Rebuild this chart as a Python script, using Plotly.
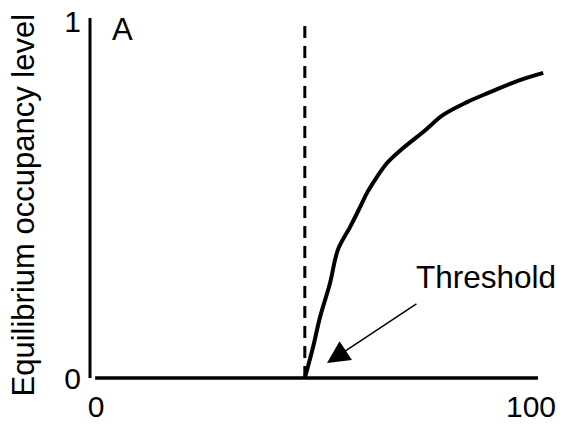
import plotly.graph_objects as go

# Data
curve_x = [48.0, 49.9, 51.5, 53.8, 55.6, 58.4, 60.7, 62.3, 64.6, 66.9, 70.6, 75.2, 79.8, 85.3, 90.6, 96.8, 102.8]
curve_y = [0.0, 0.087, 0.171, 0.267, 0.36, 0.424, 0.480, 0.520, 0.565, 0.604, 0.646, 0.691, 0.739, 0.775, 0.803, 0.834, 0.857]
threshold_x = [48.0, 48.0]
threshold_y = [0.0, 0.997]
x_ticks = [0, 100]
x_tick_labels = ["0", "100"]
y_ticks = [0, 1]
y_tick_labels = ["0", "1"]

FONT = "Liberation Sans, Arial, sans-serif"

fig = go.Figure()
fig.add_trace(go.Scatter(x=threshold_x, y=threshold_y, mode="lines",
                         line=dict(color="black", width=3, dash="12px,8px"),
                         showlegend=False, hoverinfo="skip"))
fig.add_trace(go.Scatter(x=curve_x, y=curve_y, mode="lines",
                         line=dict(color="black", width=4, shape="spline", smoothing=1.0),
                         showlegend=False, hoverinfo="skip"))

# axis lines (they do not meet in the reference)
fig.add_shape(type="line", xref="x", yref="y", x0=-1.38, x1=-1.38, y0=0.0, y1=1.011,
              line=dict(color="black", width=3))
fig.add_shape(type="line", xref="x", yref="y", x0=-0.2, x1=101.6, y0=0.0, y1=0.0,
              line=dict(color="black", width=3.5))

fig.add_annotation(x=6.2, y=0.98, xref="x", yref="y", text="A", showarrow=False,
                   font=dict(family=FONT, size=31, color="black"))
fig.add_annotation(x=89.7, y=0.284, xref="x", yref="y", text="Threshold", showarrow=False,
                   font=dict(family=FONT, size=31.5, color="black"))
fig.add_annotation(x=53.1, y=0.042, xref="x", yref="y", ax=74.0, ay=0.211,
                   axref="x", ayref="y", text="", showarrow=True,
                   arrowhead=2, arrowwidth=1.5, arrowsize=3, arrowcolor="black")
fig.add_annotation(x=-0.1826, y=0.486, xref="paper", yref="y",
                   text="Equilibrium occupancy level", textangle=-90, showarrow=False,
                   font=dict(family=FONT, size=31, color="black"))

fig.update_layout(
    width=572, height=435,
    margin=dict(l=80, r=32, t=4, b=61, autoexpand=False),
    paper_bgcolor="white", plot_bgcolor="white",
    font=dict(family=FONT, size=30, color="black"),
    xaxis=dict(range=[-1.839, 103.9], tickvals=x_ticks, ticktext=x_tick_labels,
               showgrid=False, zeroline=False, showline=False, ticks="",
               automargin=False, ticklabelstandoff=4, ticklabeloverflow="allow",
               tickfont=dict(size=30)),
    yaxis=dict(range=[-0.0112, 1.028], tickvals=y_ticks, ticktext=y_tick_labels,
               showgrid=False, zeroline=False, showline=False, ticks="",
               automargin=False, ticklabelstandoff=6, ticklabeloverflow="allow",
               tickfont=dict(size=30)),
)

fig.write_html("out.html")
